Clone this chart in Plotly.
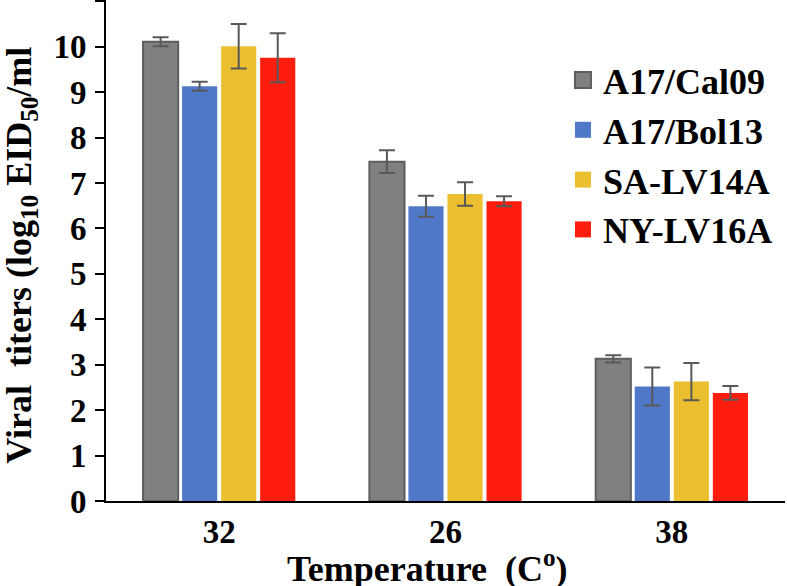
import plotly.graph_objects as go

temps = ["32", "26", "38"]
series_names = ["A17/Cal09", "A17/Bol13", "SA-LV14A", "NY-LV16A"]
cal09 = [10.11, 7.47, 3.13]
cal09_err = [0.10, 0.25, 0.08]
bol13 = [9.13, 6.49, 2.52]
bol13_err = [0.10, 0.23, 0.42]
lv14a = [10.01, 6.76, 2.63]
lv14a_err = [0.49, 0.26, 0.41]
lv16a = [9.76, 6.60, 2.38]
lv16a_err = [0.54, 0.11, 0.15]

x_title = "Temperature  (C<sup>o</sup>)"
y_title = "Viral  titers (log<sub>10</sub> EID<sub>50</sub>/ml"

colors = ["#808080", "#5078C8", "#EBBF30", "#FF1E0E"]
lines = ["#5E5E5E", "#5078C8", "#EBBF30", "#FF1E0E"]
lwidths = [2, 0, 0, 0]
values = [cal09, bol13, lv14a, lv16a]
errors = [cal09_err, bol13_err, lv14a_err, lv16a_err]

FONT = "Liberation Serif, Times New Roman, serif"

fig = go.Figure()
for name, v, e, c, lc, lw in zip(series_names, values, errors, colors, lines, lwidths):
    fig.add_trace(go.Bar(
        x=temps, y=v, name=name, showlegend=False,
        marker=dict(color=c, line=dict(color=lc, width=lw)),
        error_y=dict(type="data", array=e, visible=True, color="#595959",
                     thickness=2, width=8),
    ))
# legend entries with larger square symbols
for name, c, lc, lw in zip(series_names, colors, lines, lwidths):
    fig.add_trace(go.Scatter(
        x=[None], y=[None], mode="markers", name=name,
        marker=dict(symbol="square", size=20, color=c,
                    line=dict(color=lc, width=lw)),
    ))

fig.update_layout(
    width=787, height=586,
    margin=dict(l=106, r=2, t=0, b=85, autoexpand=False),
    paper_bgcolor="white", plot_bgcolor="white",
    barmode="group", bargap=0.31, bargroupgap=0.1,
    font=dict(family=FONT, color="black", size=33, weight="bold"),
    legend=dict(x=0.673, y=0.9, xanchor="left", yanchor="top",
                font=dict(size=36, family=FONT, color="black", weight="bold"),
                bgcolor="rgba(0,0,0,0)", itemwidth=30),
    xaxis=dict(showline=True, linecolor="black", linewidth=2, ticks="",
               automargin=False, ticklabelstandoff=0,
               tickfont=dict(size=33, family=FONT, weight="bold")),
    yaxis=dict(range=[0, 11.03], dtick=1, showgrid=False, zeroline=False,
               showline=True, linecolor="black", linewidth=2,
               ticks="outside", ticklen=9, tickwidth=2, tickcolor="black",
               ticklabelstandoff=2, automargin=False,
               tickfont=dict(size=33, family=FONT, weight="bold")),
    annotations=[
        dict(text=x_title, xref="paper", yref="paper", x=0.473, y=-0.13,
             xanchor="center", yanchor="middle", showarrow=False,
             font=dict(size=36, family=FONT, color="black", weight="bold")),
        dict(text=y_title, xref="paper", yref="paper", x=-0.125, y=0.49,
             xanchor="center", yanchor="middle", showarrow=False, textangle=-90,
             font=dict(size=36, family=FONT, color="black", weight="bold")),
    ],
)

fig.write_html("out.html", config={"displayModeBar": False},
               post_script="document.body.style.margin='0';document.body.style.padding='0';")
